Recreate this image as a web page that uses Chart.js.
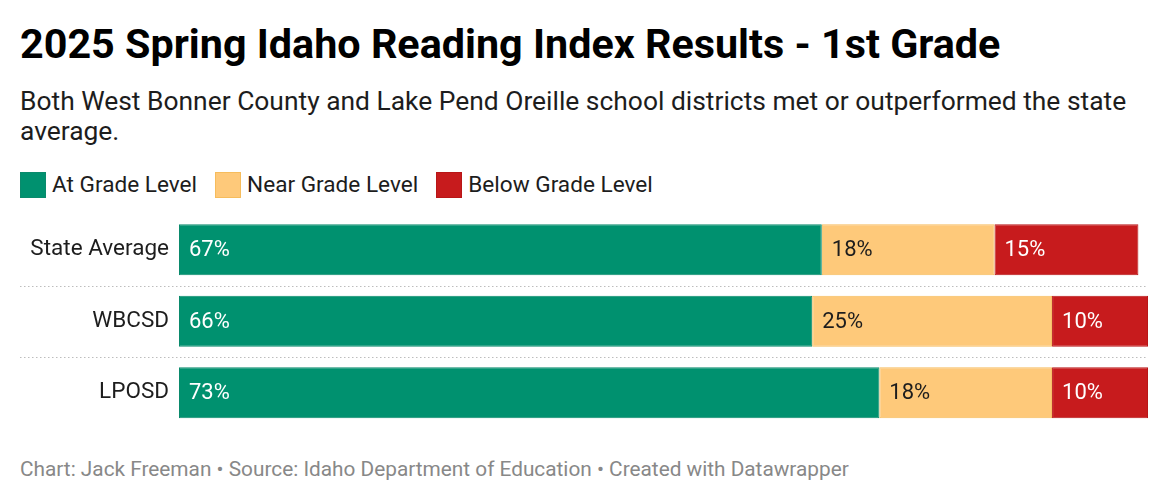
<!DOCTYPE html>
<html>
<head>
<meta charset="utf-8">
<script src="https://cdn.jsdelivr.net/npm/chart.js@4"></script>
<style>
  html, body { margin: 0; padding: 0; background: #fff; }
  body { width: 1170px; height: 500px; position: relative; font-family: Roboto, sans-serif; color: #1d1d1d; overflow: hidden; }
  h1 { position: absolute; left: 20px; top: 20px; margin: 0; font-size: 41.3px; font-weight: 700; line-height: 1.2; color: #000; white-space: nowrap; }
  .sub { position: absolute; left: 20px; top: 87px; width: 1140px; margin: 0; font-size: 26.4px; line-height: 29.5px; color: #1d1d1d; }
  .legend { position: absolute; left: 20px; top: 172px; display: flex; font-size: 22.6px; line-height: 26px; }
  .legend span { display: flex; align-items: center; margin-right: 18px; }
  .legend i { display: inline-block; width: 26px; height: 26px; margin-right: 6px; box-sizing: border-box; }
  #wrap { position: absolute; left: 0; top: 213.75px; width: 1170px; height: 214.5px; }
  .foot { position: absolute; left: 20px; top: 458.5px; font-size: 20.8px; line-height: 1; color: #888; white-space: nowrap; }
</style>
</head>
<body>
<h1>2025 Spring Idaho Reading Index Results - 1st Grade</h1>
<p class="sub">Both West Bonner County and Lake Pend Oreille school districts met or outperformed the state average.</p>
<div class="legend" id="legend"></div>
<div id="wrap"><canvas id="chart"></canvas></div>
<div class="foot">Chart: Jack Freeman • Source: Idaho Department of Education • Created with Datawrapper</div>
<script>
const districts = ['State Average', 'WBCSD', 'LPOSD'];
const seriesNames = ['At Grade Level', 'Near Grade Level', 'Below Grade Level'];
const atGrade = [67, 66, 73];
const nearGrade = [18, 25, 18];
const belowGrade = [15, 10, 10];

const fills = ['#00916f', '#fec97a', '#c71b1d'];
const edges = ['#0a8a6c', '#f6bc5c', '#b81617'];
const textColors = ['#ffffff', '#1d1d1d', '#ffffff'];

// legend
const legend = document.getElementById('legend');
seriesNames.forEach((name, i) => {
    const s = document.createElement('span');
    s.innerHTML = `<i style="background:${fills[i]};border:1px solid ${edges[i]}"></i>${name}`;
    legend.appendChild(s);
});

// dotted rules between rows + value labels inside segments
const rowDecor = {
    id: 'rowDecor',
    beforeDatasetsDraw(chart) {
        const { ctx, scales: { y } } = chart;
        ctx.save();
        ctx.strokeStyle = '#bdbdbd';
        ctx.lineWidth = 1;
        ctx.setLineDash([1.5, 2.5]);
        for (let i = 0; i < districts.length - 1; i++) {
            const yy = Math.round((y.getPixelForValue(i) + y.getPixelForValue(i + 1)) / 2) + 0.5;
            ctx.beginPath();
            ctx.moveTo(20, yy);
            ctx.lineTo(chart.chartArea.right, yy);
            ctx.stroke();
        }
        ctx.restore();
    },
    afterDatasetsDraw(chart) {
        const { ctx } = chart;
        ctx.save();
        ctx.font = '22px Roboto';
        ctx.textBaseline = 'middle';
        ctx.textAlign = 'left';
        chart.data.datasets.forEach((ds, di) => {
            chart.getDatasetMeta(di).data.forEach((bar, i) => {
                const left = Math.min(bar.x, bar.base);
                ctx.fillStyle = textColors[di];
                ctx.fillText(ds.data[i] + '%', left + 10, bar.y + 1);
            });
        });
        ctx.restore();
    }
};

const data = {
    labels: districts,
    datasets: [atGrade, nearGrade, belowGrade].map((vals, i) => ({
        label: seriesNames[i],
        data: vals,
        backgroundColor: fills[i],
        borderColor: edges[i],
        borderWidth: 1,
        borderSkipped: false,
        barPercentage: 0.713,
        categoryPercentage: 1
    }))
};

const config = {
    type: 'bar',
    data: data,
    options: {
        indexAxis: 'y',
        responsive: true,
        maintainAspectRatio: false,
        animation: false,
        layout: { padding: { left: 20, right: 22, top: 0, bottom: 0 } },
        scales: {
            x: { stacked: true, min: 0, max: 101, display: false },
            y: {
                stacked: true,
                grid: { display: false, drawTicks: false },
                border: { display: false },
                ticks: { color: '#1d1d1d', font: { family: 'Roboto', size: 22.5 }, padding: 10 },
                afterFit(scale) {
                    scale.width = 159;
                    scale.paddingTop = 0;
                    scale.paddingBottom = 0;
                }
            }
        },
        plugins: {
            legend: { display: false },
            tooltip: { enabled: false }
        }
    },
    plugins: [rowDecor]
};

new Chart(document.getElementById('chart'), config);
</script>
</body>
</html>
